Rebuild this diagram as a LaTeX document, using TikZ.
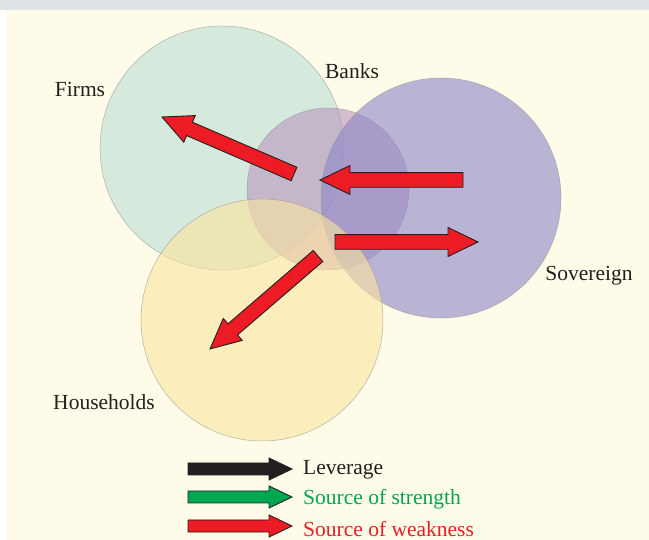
\documentclass[tikz,border=0pt]{standalone}
\usepackage{fontspec}
\setmainfont{Liberation Serif}
\usetikzlibrary{calc}
\definecolor{cream}{RGB}{254,251,232}
\definecolor{band}{RGB}{222,227,230}
\definecolor{firmsc}{RGB}{186,224,212}
\definecolor{banksc}{RGB}{186,150,190}
\definecolor{sovc}{RGB}{141,134,200}
\definecolor{housec}{RGB}{252,228,159}
\definecolor{rimc}{RGB}{150,150,150}
\definecolor{redc}{RGB}{237,28,36}
\definecolor{greenc}{RGB}{0,166,81}
\definecolor{inkc}{RGB}{35,31,32}
\newcommand{\fatarrow}[6][]{%
  \coordinate (fah) at ($(#3)!#6!(#2)$);
  \draw[#1] ($(#2)!#4!90:(#3)$) -- ($(fah)!#4!90:(#3)$) -- ($(fah)!#5!90:(#3)$)
    -- (#3) -- ($(fah)!#5!-90:(#3)$) -- ($(fah)!#4!-90:(#3)$) -- ($(#2)!#4!-90:(#3)$) -- cycle;}
\begin{document}
\begin{tikzpicture}[x=1pt,y=-1pt,
  sector/.style={circle,draw=rimc,line width=0.5pt,fill opacity=0.6,draw opacity=0.7,inner sep=0pt},
  lbl/.style={inner sep=0pt,text=inkc,font=\fontsize{21.5}{23}\selectfont},
  bigred/.style={fill=redc,draw=inkc,line width=0.9pt,line join=miter},
]
\useasboundingbox (0,0) rectangle (649,540);
\fill[white] (0,0) rectangle (649,540);
\fill[cream] (6,10) rectangle (649,540);
\fill[band] (0,0) rectangle (649,10);

\node[sector,fill=firmsc,minimum size=244pt] (firms) at (222,148) {};
\node[sector,fill=banksc,minimum size=162pt] (banks) at (328,189) {};
\node[sector,fill=sovc,minimum size=240pt] (sov) at (441,198) {};
\node[sector,fill=housec,minimum size=242pt] (house) at (262,320) {};

\node[lbl] (firmsl) at (80,89) {Firms};
\node[lbl] (banksl) at (352,71) {Banks};
\node[lbl] (sovl) at (589,276) {Sovereign};
\node[lbl] (housel) at (104,402) {Households};

% main arrows
\coordinate (a1t) at (294,174); \coordinate (a1h) at (162,117);
\coordinate (a2t) at (463,180); \coordinate (a2h) at (320,180);
\coordinate (a3t) at (335,242); \coordinate (a3h) at (478,242);
\coordinate (a4t) at (318,256); \coordinate (a4h) at (210,349);
\fatarrow[bigred]{a1t}{a1h}{7.3pt}{14.5pt}{30pt}
\fatarrow[bigred]{a2t}{a2h}{7.3pt}{14.5pt}{30pt}
\fatarrow[bigred]{a3t}{a3h}{7.3pt}{14.5pt}{30pt}
\fatarrow[bigred]{a4t}{a4h}{7.3pt}{14.5pt}{30pt}

% legend
\coordinate (l1t) at (188,469); \coordinate (l1h) at (292,469);
\coordinate (l2t) at (188,497); \coordinate (l2h) at (292,497);
\coordinate (l3t) at (188,526); \coordinate (l3h) at (292,526);
\fatarrow[fill=inkc,draw=inkc,line width=0.9pt]{l1t}{l1h}{6pt}{11pt}{23pt}
\fatarrow[fill=greenc,draw=inkc,line width=0.9pt]{l2t}{l2h}{6pt}{11pt}{23pt}
\fatarrow[fill=redc,draw=inkc,line width=0.9pt]{l3t}{l3h}{6pt}{11pt}{23pt}
\node[lbl,anchor=west] (lev) at (303,470) {Leverage};
\node[lbl,anchor=west,text=greenc] (str) at (303,499) {Source of strength};
\node[lbl,anchor=west,text=redc] (weak) at (303,529) {Source of weakness};
\end{tikzpicture}
\end{document}
